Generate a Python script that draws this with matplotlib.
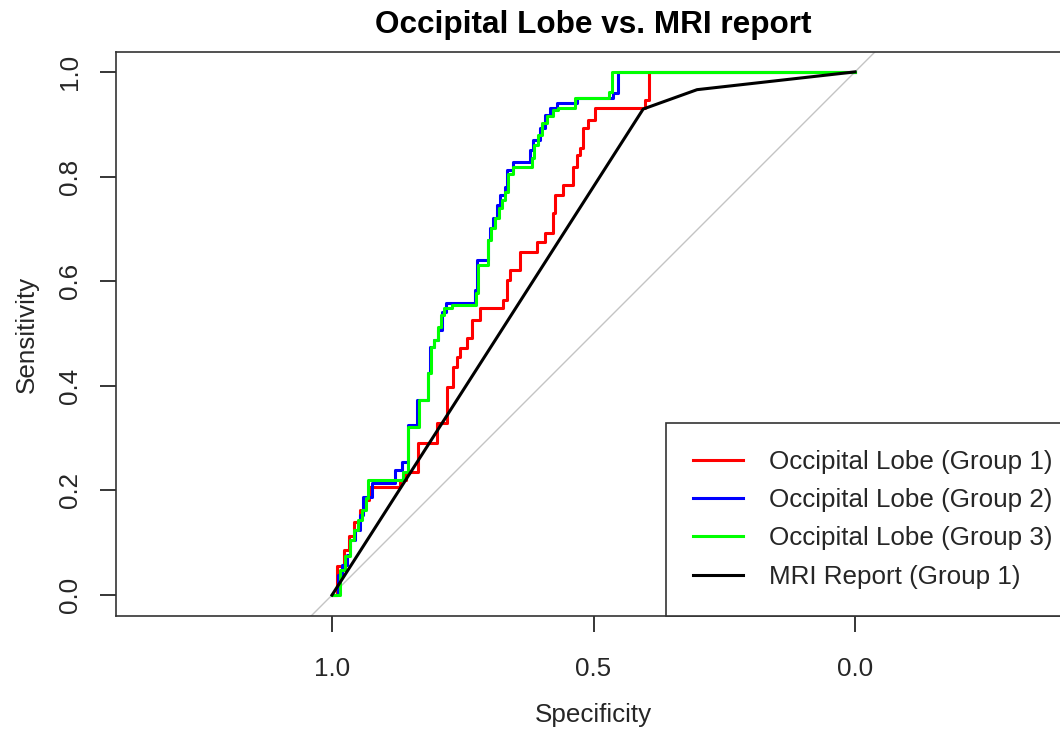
import matplotlib.pyplot as plt

plt.rcParams['font.family'] = ['Liberation Sans', 'DejaVu Sans']

# ROC points (specificity, sensitivity)
spec_g1 = [1.000, 0.990, 0.977, 0.967, 0.958, 0.946, 0.939, 0.929, 0.870, 0.859,
           0.836, 0.799, 0.780, 0.769, 0.761, 0.755, 0.742, 0.732, 0.717, 0.673,
           0.665, 0.660, 0.641, 0.608, 0.593, 0.577, 0.574, 0.558, 0.539, 0.532,
           0.526, 0.520, 0.511, 0.497, 0.402, 0.394, 0.000]
sens_g1 = [0.000, 0.055, 0.086, 0.113, 0.140, 0.163, 0.182, 0.207, 0.220, 0.235,
           0.291, 0.329, 0.398, 0.436, 0.455, 0.472, 0.491, 0.526, 0.549, 0.564,
           0.602, 0.621, 0.656, 0.675, 0.692, 0.730, 0.765, 0.784, 0.818, 0.841,
           0.855, 0.893, 0.908, 0.931, 0.946, 1.000, 1.000]

spec_g2 = [1.000, 0.989, 0.981, 0.971, 0.966, 0.956, 0.946, 0.941, 0.924, 0.880,
           0.866, 0.855, 0.837, 0.816, 0.813, 0.805, 0.797, 0.790, 0.782, 0.727,
           0.723, 0.702, 0.698, 0.692, 0.685, 0.679, 0.669, 0.665, 0.654, 0.621,
           0.616, 0.602, 0.593, 0.583, 0.570, 0.532, 0.463, 0.453, 0.000]
sens_g2 = [0.000, 0.038, 0.057, 0.076, 0.105, 0.124, 0.153, 0.187, 0.214, 0.239,
           0.254, 0.325, 0.373, 0.424, 0.474, 0.488, 0.507, 0.541, 0.558, 0.583,
           0.641, 0.679, 0.702, 0.721, 0.746, 0.765, 0.780, 0.813, 0.828, 0.851,
           0.870, 0.893, 0.918, 0.931, 0.941, 0.950, 0.960, 1.000, 1.000]

spec_g3 = [1.000, 0.985, 0.975, 0.966, 0.958, 0.950, 0.943, 0.935, 0.931, 0.864,
           0.855, 0.834, 0.816, 0.811, 0.805, 0.797, 0.792, 0.786, 0.771, 0.725,
           0.721, 0.702, 0.696, 0.688, 0.681, 0.675, 0.669, 0.663, 0.654, 0.618,
           0.614, 0.606, 0.598, 0.589, 0.577, 0.568, 0.535, 0.470, 0.465, 0.000]
sens_g3 = [0.000, 0.048, 0.075, 0.105, 0.124, 0.143, 0.163, 0.185, 0.220, 0.235,
           0.321, 0.373, 0.424, 0.474, 0.488, 0.512, 0.535, 0.549, 0.554, 0.577,
           0.631, 0.679, 0.702, 0.721, 0.740, 0.755, 0.771, 0.805, 0.818, 0.836,
           0.860, 0.880, 0.902, 0.916, 0.927, 0.931, 0.950, 0.962, 1.000, 1.000]

spec_mri = [1.000, 0.405, 0.302, 0.000]
sens_mri = [0.000, 0.929, 0.966, 1.000]

labels = ['Occipital Lobe (Group 1)', 'Occipital Lobe (Group 2)',
          'Occipital Lobe (Group 3)', 'MRI Report (Group 1)']

fig = plt.figure(figsize=(10.6, 7.32), dpi=100)
# plot box runs past the right edge, like the cropped original
ax = fig.add_axes([116/1060, 116/732, 955/1060, 564/732])
ax.set_xlim(1.413, -0.413)
ax.set_ylim(-0.04, 1.038)

ax.axline((1, 0), (0, 1), color='#c4c4c4', lw=1, zorder=1)
ax.step(spec_g1, sens_g1, where='post', color='#ff0000', lw=2.2, label=labels[0])
ax.step(spec_g2, sens_g2, where='post', color='#0000ff', lw=2.2, label=labels[1])
ax.step(spec_g3, sens_g3, where='post', color='#00ff00', lw=2.2, label=labels[2])
ax.plot(spec_mri, sens_mri, color='black', lw=2.2, label=labels[3])

txt = '#262626'
ax.set_xticks([1.0, 0.5, 0.0])
ax.set_xticklabels(['1.0', '0.5', '0.0'])
ax.set_yticks([0.0, 0.2, 0.4, 0.6, 0.8, 1.0])
ax.set_yticklabels(['0.0', '0.2', '0.4', '0.6', '0.8', '1.0'], rotation=90, va='center')
ax.tick_params(length=11.5, width=1.1, direction='out', labelsize=18.7,
               colors='black', labelcolor=txt)
ax.tick_params(axis='x', pad=18)
ax.tick_params(axis='y', pad=13)
for s in ax.spines.values():
    s.set_linewidth(1.2)
    s.set_color('#333333')

ax.set_title('Occipital Lobe vs. MRI report', fontsize=22.7, fontweight='bold', pad=14)
ax.set_xlabel('Specificity', fontsize=18.7, labelpad=16, color=txt)
ax.set_ylabel('Sensitivity', fontsize=18.7, labelpad=14, color=txt)

leg = ax.legend(loc='lower right', bbox_to_anchor=(1 + 9/955, 0), borderaxespad=0,
                fontsize=18.7, handlelength=1.92, handletextpad=1.0,
                borderpad=1.05, labelspacing=0.55, fancybox=False,
                edgecolor='#333333', framealpha=1)
leg.get_frame().set_linewidth(1.2)
for t in leg.get_texts():
    t.set_color(txt)

fig.savefig('out.png', dpi=100)
